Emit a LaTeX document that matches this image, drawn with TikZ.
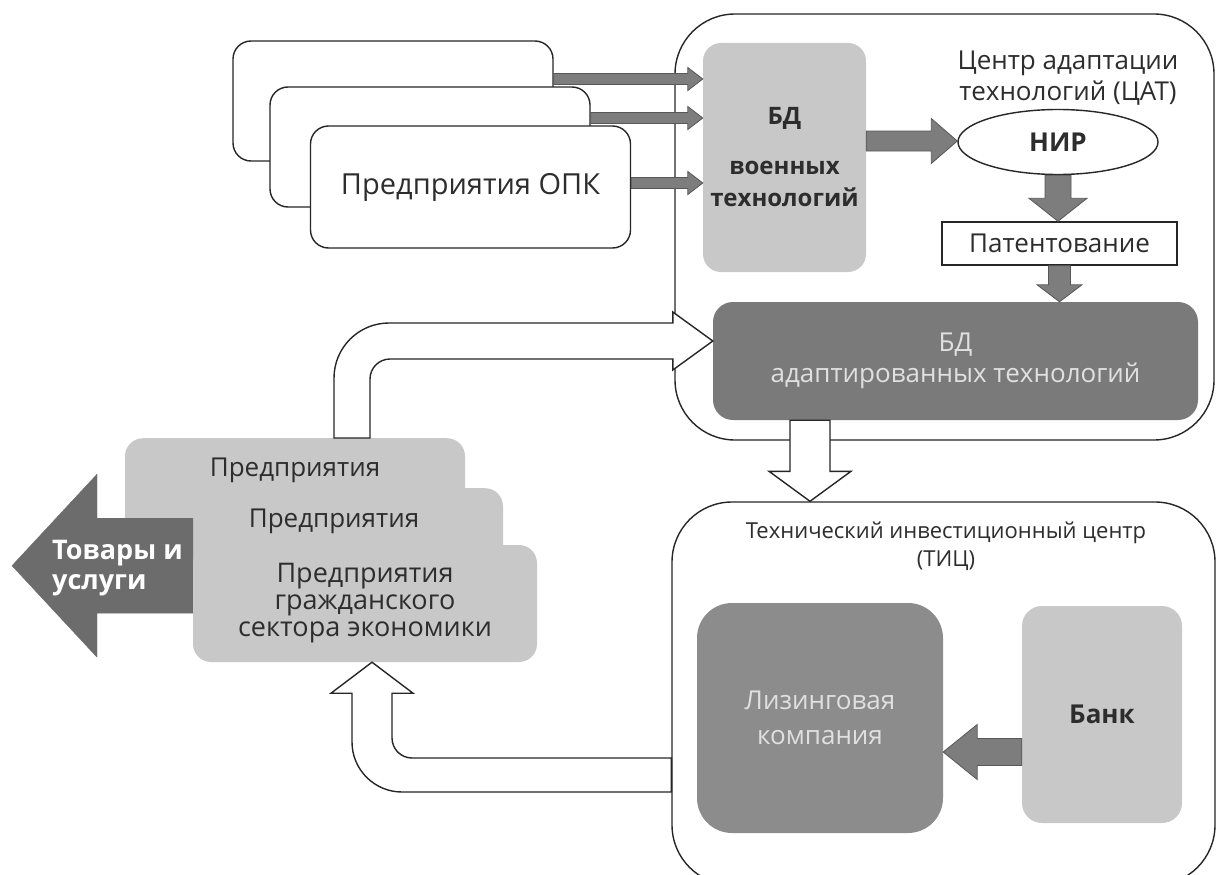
\documentclass[tikz,border=0pt]{standalone}
\usepackage{fontspec}
\setmainfont{Open Sans}
\usepackage{tikz}
\usetikzlibrary{shapes.geometric, calc}
\definecolor{boxlight}{RGB}{200,200,200}
\definecolor{boxdark}{RGB}{122,122,122}
\definecolor{boxmid}{RGB}{140,140,140}
\definecolor{arrowgray}{RGB}{125,125,125}
\definecolor{goodsgray}{RGB}{108,108,108}
\definecolor{txtdark}{RGB}{45,45,45}
\newcommand{\fs}{\fontsize{26}{31}\selectfont}
% horizontal block arrow: from, to, half shaft, half head, head length
\newcommand{\harrow}[6][]{%
  \filldraw[#1] let \p1=(#2), \p2=(#3), \n1={ifthenelse(\x2>\x1,1,-1)} in
    (\x1,{\y1+#4pt}) -- ({\x2-(\n1)*#6pt},{\y1+#4pt}) -- ({\x2-(\n1)*#6pt},{\y1+#5pt}) -- (\x2,\y1)
    -- ({\x2-(\n1)*#6pt},{\y1-#5pt}) -- ({\x2-(\n1)*#6pt},{\y1-#4pt}) -- (\x1,{\y1-#4pt}) -- cycle;}
% downward block arrow
\newcommand{\varrow}[6][]{%
  \filldraw[#1] let \p1=(#2), \p2=(#3) in
    ({\x1-#4pt},\y1) -- ({\x1-#4pt},{\y2+#6pt}) -- ({\x1-#5pt},{\y2+#6pt}) -- (\x1,\y2)
    -- ({\x1+#5pt},{\y2+#6pt}) -- ({\x1+#4pt},{\y2+#6pt}) -- ({\x1+#4pt},\y1) -- cycle;}

\begin{document}
\begin{tikzpicture}[x=1pt, y=-1pt,
  cont/.style={draw=black!85, line width=1.4pt, rounded corners=60pt, fill=white, inner sep=0pt},
  opk/.style={draw=black!85, line width=1.4pt, rounded corners=18pt, fill=white, minimum width=320pt, minimum height=120pt, inner sep=0pt, text=txtdark},
  gbox/.style={fill=#1, rounded corners=18pt, align=center, inner sep=0pt, text=txtdark},
  lbl/.style={align=center, text=txtdark, inner sep=0pt},
  garrow/.style={fill=arrowgray, draw=arrowgray!70!black, line width=0.8pt},
  warrow/.style={fill=white, draw=black!85, line width=1.4pt},
  font=\fs
]
\useasboundingbox (0,0) rectangle (1219,875);

% Centres
\node[cont, minimum width=539pt, minimum height=426pt] (cat) at (944.5,227) {};
\node[cont, minimum width=543pt, minimum height=383pt] (tic) at (943.5,693.5) {};
\node[lbl] (catlbl) at (1068,78) {Центр адаптации\\технологий (ЦАТ)};
\node[lbl, font=\fontsize{22}{28}\selectfont] (ticlbl) at (946,546) {Технический инвестиционный центр\\(ТИЦ)};

% Defence enterprises
\node[opk] (opk1) at (393,101) {};
\node[opk] (opk2) at (430,147) {};
\node[opk, minimum height=122pt, font=\fontsize{29}{31}\selectfont] (opk3) at (470.5,187) {Предприятия ОПК};

% Adaptation centre
\node[gbox=boxlight, minimum width=163pt, minimum height=229pt, font=\fontsize{24}{32}\selectfont\bfseries] (bdvt) at (784.5,157.5) {БД\\[18pt]военных\\технологий};
\node[ellipse, draw=black!85, line width=1.4pt, fill=white, minimum width=200pt, minimum height=65pt, inner sep=0pt, text=txtdark, font=\fs\bfseries] (nir) at (1058,142) {НИР};
\node[draw=black!85, line width=1.4pt, fill=white, minimum width=235pt, minimum height=43pt, inner sep=0pt, text=txtdark] (pat) at (1059.5,243.5) {Патентование};
\node[gbox=boxdark, minimum width=485pt, minimum height=118pt, rounded corners=20pt, text=white!88!black] (bdat) at (955.5,361) {БД\\адаптированных технологий};

\harrow[garrow]{[yshift=22pt]opk1.east}{bdvt.west}{5.5}{11.5}{15}
\harrow[garrow]{[yshift=29pt]opk2.east}{bdvt.west}{5.5}{11.5}{15}
\harrow[garrow]{[yshift=4pt]opk3.east}{bdvt.west}{5.5}{11.5}{15}
\harrow[garrow]{[yshift=16.5pt]bdvt.east}{nir.west}{10}{22.5}{26}
\varrow[garrow]{nir.south}{pat.north}{13}{29}{23}
\varrow[garrow]{pat.south}{bdat.north}{11}{22.5}{17}

% Investment centre
\node[gbox=boxmid, minimum width=246pt, minimum height=230pt, rounded corners=35pt, text=white!88!black, font=\fontsize{26}{35}\selectfont] (lease) at (820,718) {Лизинговая\\компания};
\node[gbox=boxlight, minimum width=160pt, minimum height=217pt, rounded corners=20pt, font=\fs\bfseries] (bank) at (1102,714.5) {Банк};
\harrow[garrow]{[yshift=-37.5pt]bank.west}{lease.east}{13.5}{27.5}{34}

% Civil enterprises
\node[gbox=boxlight, minimum width=340pt, anchor=north, text height=38pt, text depth=84pt] (civA) at (295,438) {Предприятия};
\node[gbox=boxlight, minimum width=338pt, anchor=north, text height=39pt, text depth=83pt] (civB) at (334,488) {Предприятия};
\coordinate (goods) at (12,566);
\harrow[fill=goodsgray, draw=goodsgray]{[xshift=28pt, yshift=-16.5pt]civB.west}{goods}{47.5}{91.5}{85}
\node[anchor=west, align=left, inner sep=0pt, text=white, font=\fontsize{27}{30}\selectfont\bfseries] (goodslbl) at (52,568) {Товары и\\услуги};
\node[gbox=boxlight, minimum width=344pt, minimum height=117pt, font=\fontsize{27}{27}\selectfont] (civC) at (365,603.5) {Предприятия\\гражданского\\сектора экономики};

% Flows between centres
\draw[warrow] let \p1=([xshift=57pt]civA.north), \p2=([yshift=20pt]bdat.west) in
  ({\x1-18pt},\y1) -- ({\x1-18pt},{\y2-37pt}) arc[start angle=180, end angle=90, radius=55pt]
  -- ({\x2-40pt},{\y2+18pt}) -- ({\x2-40pt},{\y2+29pt}) -- (\x2,\y2) -- ({\x2-40pt},{\y2-29pt}) -- ({\x2-40pt},{\y2-18pt})
  -- ({\x1+38pt},{\y2-18pt}) arc[start angle=90, end angle=180, radius=20pt] -- ({\x1+18pt},\y1) -- cycle;
\varrow[warrow]{[xshift=-145.5pt]bdat.south}{tic.north}{20}{41}{30}
\draw[warrow] let \p1=([yshift=-81.5pt]tic.west), \p2=([xshift=7pt]civC.south) in
  (\x1,{\y1+17pt}) -- ({\x2+40pt},{\y1+17pt}) arc[start angle=270, end angle=180, radius=20pt]
  -- ({\x2+20pt},{\y2-31pt}) -- ({\x2+41pt},{\y2-31pt}) -- (\x2,\y2) -- ({\x2-41pt},{\y2-31pt}) -- ({\x2-20pt},{\y2-31pt})
  -- ({\x2-20pt},{\y1+33pt}) arc[start angle=180, end angle=270, radius=50pt] -- (\x1,{\y1-17pt}) -- cycle;

\end{tikzpicture}
\end{document}
